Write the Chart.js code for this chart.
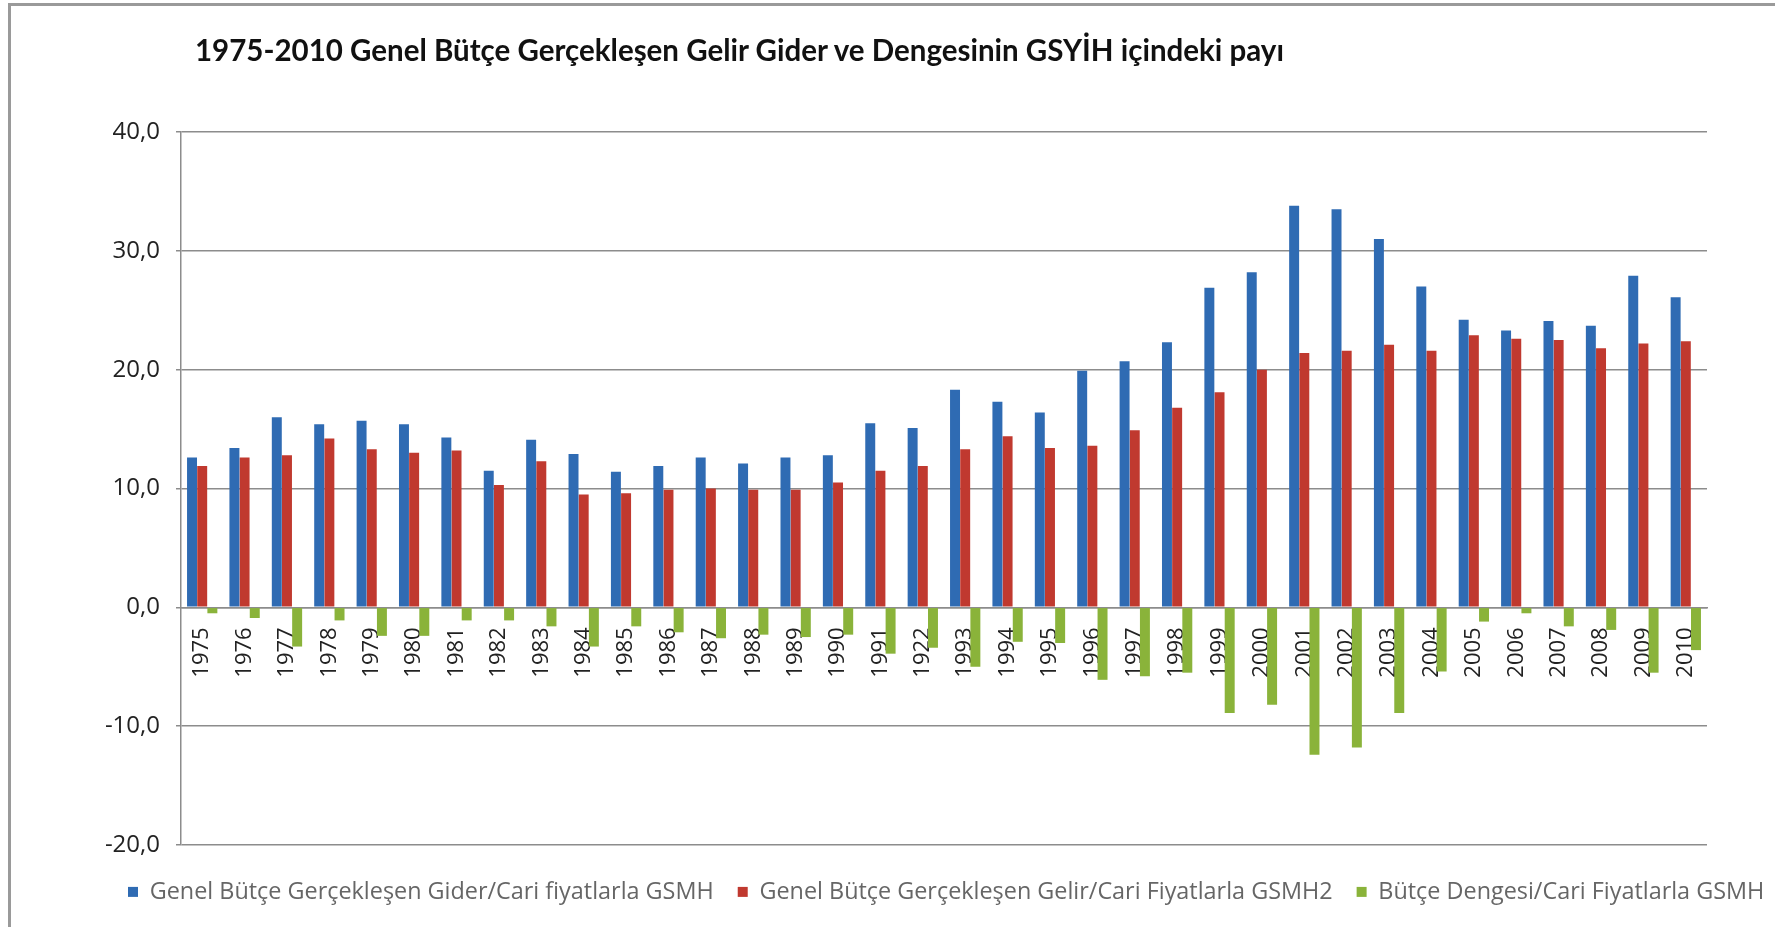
<!DOCTYPE html>
<html lang="tr">
<head>
  <meta charset="UTF-8" />
  <title>Genel Bütçe / GSYİH</title>
  <script src="https://cdn.jsdelivr.net/npm/chart.js"></script>
  <style>
    html, body { margin: 0; padding: 0; background: #fff; }
    body { width: 1775px; height: 927px; position: relative; overflow: hidden; }
    .frame { position: absolute; left: 8px; top: 3px; right: -10px; bottom: -10px; border-left: 3px solid #9a9a9a; border-top: 3px solid #9a9a9a; pointer-events: none; }
    h1 { position: absolute; left: 195px; top: 32px; margin: 0; font: bold 29.5px Lato, sans-serif; color: #111; white-space: nowrap; }
    #wrap { position: absolute; left: 0; top: 0; width: 1775px; height: 927px; }
  </style>
</head>
<body>
  <div id="wrap"><canvas id="budgetChart" width="1775" height="927"></canvas></div>
  <div class="frame"></div>
  <h1>1975-2010 Genel Bütçe Gerçekleşen Gelir Gider ve Dengesinin GSYİH içindeki payı</h1>

  <script>
    const years = ["1975", "1976", "1977", "1978", "1979", "1980", "1981", "1982", "1983", "1984",
      "1985", "1986", "1987", "1988", "1989", "1990", "1991", "1922", "1993", "1994",
      "1995", "1996", "1997", "1998", "1999", "2000", "2001", "2002", "2003", "2004",
      "2005", "2006", "2007", "2008", "2009", "2010"];

    // gider / GSMH
    const gider = [12.6, 13.4, 16.0, 15.4, 15.7, 15.4, 14.3, 11.5, 14.1, 12.9,
      11.4, 11.9, 12.6, 12.1, 12.6, 12.8, 15.5, 15.1, 18.3, 17.3,
      16.4, 19.9, 20.7, 22.3, 26.9, 28.2, 33.8, 33.5, 31.0, 27.0,
      24.2, 23.3, 24.1, 23.7, 27.9, 26.1];

    // gelir / GSMH
    const gelir = [11.9, 12.6, 12.8, 14.2, 13.3, 13.0, 13.2, 10.3, 12.3, 9.5,
      9.6, 9.9, 10.0, 9.9, 9.9, 10.5, 11.5, 11.9, 13.3, 14.4,
      13.4, 13.6, 14.9, 16.8, 18.1, 20.0, 21.4, 21.6, 22.1, 21.6,
      22.9, 22.6, 22.5, 21.8, 22.2, 22.4];

    // bütçe dengesi / GSMH
    const denge = [-0.5, -0.9, -3.3, -1.1, -2.4, -2.4, -1.1, -1.1, -1.6, -3.3,
      -1.6, -2.1, -2.6, -2.3, -2.5, -2.3, -3.9, -3.4, -5.0, -2.9,
      -3.0, -6.1, -5.8, -5.5, -8.9, -8.2, -12.4, -11.8, -8.9, -5.4,
      -1.2, -0.5, -1.6, -1.9, -5.5, -3.6];

    const yTicks = [-20, -10, 0, 10, 20, 30, 40];

    const seriesNames = [
      "Genel Bütçe Gerçekleşen Gider/Cari fiyatlarla GSMH",
      "Genel Bütçe Gerçekleşen Gelir/Cari Fiyatlarla GSMH2",
      "Bütçe Dengesi/Cari Fiyatlarla GSMH"
    ];

    // cylinder-ish shading like the excel bars
    function shade(light, mid, dark) {
      return function (c) {
        const el = c.element;
        if (!el || el.width === undefined || isNaN(el.x)) return mid;
        const g = c.chart.ctx.createLinearGradient(el.x - el.width / 2, 0, el.x + el.width / 2, 0);
        g.addColorStop(0, mid);
        g.addColorStop(0.35, light);
        g.addColorStop(1, dark);
        return g;
      };
    }

    // legend is wider than the plot and sits a bit lower than chart.js would put it
    const legendOffset = {
      id: "legendOffset",
      beforeInit(chart) {
        const fit = chart.legend.fit;
        chart.legend.fit = function () {
          this.maxWidth = 1700;
          fit.call(this);
          this.height = 82;
        };
      },
      afterLayout(chart) {
        const lg = chart.legend;
        lg.width = 1700;
        lg.right = lg.left + 1700;
      }
    };

    const ctx = document.getElementById("budgetChart").getContext("2d");
    new Chart(ctx, {
      type: "bar",
      data: {
        labels: years,
        datasets: [
          { label: seriesNames[0], data: gider, backgroundColor: shade("#4a86cf", "#2f6bb3", "#1f4f8c") },
          { label: seriesNames[1], data: gelir, backgroundColor: shade("#d9524a", "#c0392f", "#8e2520") },
          { label: seriesNames[2], data: denge, backgroundColor: shade("#a9cc55", "#8ab33a", "#5f7f22") }
        ]
      },
      options: {
        responsive: false,
        animation: false,
        devicePixelRatio: 1,
        categoryPercentage: 0.72,
        barPercentage: 0.98,
        layout: { padding: { top: 132, right: 68, bottom: 0, left: 104 } },
        plugins: {
          title: { display: false },
          tooltip: { enabled: false },
          legend: {
            position: "bottom",
            align: "start",
            title: { display: true, text: "", padding: { top: 10, bottom: 0 }, font: { size: 1 } },
            labels: {
              boxWidth: 10,
              boxHeight: 10,
              padding: 24,
              color: "#222",
              font: { family: "'Open Sans', sans-serif", size: 23.4 },
              generateLabels(chart) {
                const cols = ["#2f6bb3", "#c0392f", "#8ab33a"];
                return chart.data.datasets.map((d, i) => ({
                  text: d.label, fillStyle: cols[i], strokeStyle: cols[i], lineWidth: 0, datasetIndex: i
                }));
              }
            }
          }
        },
        scales: {
          x: {
            position: { y: 0 },
            grid: { display: false },
            border: { display: true, color: "#8c8c8c", width: 1.5 },
            ticks: {
              minRotation: 90,
              maxRotation: 90,
              padding: 12,
              color: "#222",
              font: { family: "'Open Sans', sans-serif", size: 22 }
            }
          },
          y: {
            min: -20,
            max: 40,
            afterBuildTicks(scale) {
              scale.ticks = yTicks.map(v => ({ value: v }));
            },
            afterFit(scale) { scale.width = 77; },
            grid: { color: "#8c8c8c", lineWidth: 1.5, tickLength: 5 },
            border: { color: "#8c8c8c", width: 1.5 },
            ticks: {
              padding: 16,
              color: "#222",
              font: { family: "'Open Sans', sans-serif", size: 24 },
              callback: v => v.toFixed(1).replace(".", ",")
            }
          }
        }
      },
      plugins: [legendOffset]
    });
  </script>
</body>
</html>
